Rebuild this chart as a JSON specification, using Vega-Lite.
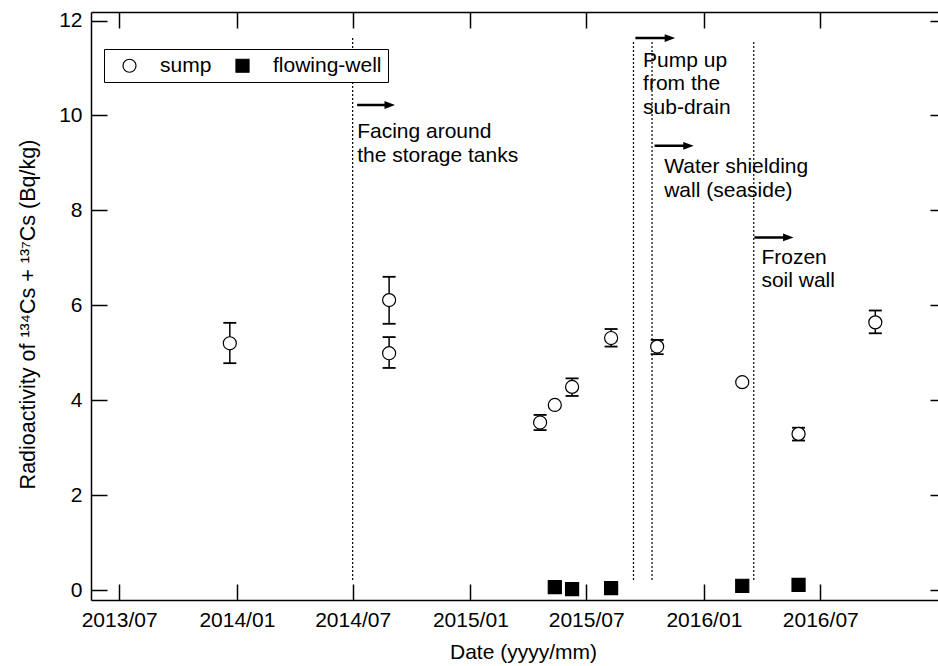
{
  "$schema": "https://vega.github.io/schema/vega-lite/v6.json",
  "width": 847,
  "height": 588,
  "autosize": {"type": "none"},
  "padding": {"left": 91, "top": 12, "right": 0, "bottom": 66},
  "background": "white",
  "config": {
    "font": "Liberation Sans",
    "view": {"stroke": null},
    "axis": {"grid": false, "domainColor": "black", "tickColor": "black", "labelColor": "black", "titleColor": "black", "domainWidth": 1.5, "tickWidth": 1.5, "labelFontSize": 21, "titleFontSize": 21, "titleFontWeight": "normal"},
    "legend": {"orient": "none", "legendX": 13, "legendY": 37, "direction": "horizontal", "strokeColor": "black", "fillColor": "white", "padding": 6, "labelFontSize": 21, "labelColor": "black", "symbolSize": 170, "symbolStrokeColor": "black", "symbolStrokeWidth": 1.2, "labelOffset": 20, "columnPadding": 11, "symbolOffset": 9}
  },
  "datasets": {
    "points": [
      {"series": "sump", "date": "2013-12-21", "value": 5.20},
      {"series": "sump", "date": "2014-08-27", "value": 6.11},
      {"series": "sump", "date": "2014-08-27", "value": 4.99},
      {"series": "sump", "date": "2015-04-20", "value": 3.53},
      {"series": "sump", "date": "2015-05-13", "value": 3.90},
      {"series": "sump", "date": "2015-06-09", "value": 4.28},
      {"series": "sump", "date": "2015-08-09", "value": 5.31},
      {"series": "sump", "date": "2015-10-20", "value": 5.13},
      {"series": "sump", "date": "2016-03-01", "value": 4.38},
      {"series": "sump", "date": "2016-05-28", "value": 3.29},
      {"series": "sump", "date": "2016-09-25", "value": 5.64},
      {"series": "flowing-well", "date": "2015-05-13", "value": 0.06},
      {"series": "flowing-well", "date": "2015-06-09", "value": 0.02},
      {"series": "flowing-well", "date": "2015-08-09", "value": 0.04},
      {"series": "flowing-well", "date": "2016-03-01", "value": 0.09},
      {"series": "flowing-well", "date": "2016-05-28", "value": 0.11}
    ],
    "errors": [
      {"date": "2013-12-21", "lo": 4.78, "hi": 5.63},
      {"date": "2014-08-27", "lo": 5.61, "hi": 6.60},
      {"date": "2014-08-27", "lo": 4.68, "hi": 5.33},
      {"date": "2015-04-20", "lo": 3.37, "hi": 3.69},
      {"date": "2015-06-09", "lo": 4.09, "hi": 4.46},
      {"date": "2015-08-09", "lo": 5.13, "hi": 5.50},
      {"date": "2015-10-20", "lo": 4.97, "hi": 5.27},
      {"date": "2016-05-28", "lo": 3.15, "hi": 3.42},
      {"date": "2016-09-25", "lo": 5.41, "hi": 5.89}
    ],
    "events": [
      {"date": "2014-07-01", "lo": 0.21, "hi": 11.66},
      {"date": "2015-09-13", "lo": 0.21, "hi": 11.59},
      {"date": "2015-10-12", "lo": 0.21, "hi": 11.59},
      {"date": "2016-03-19", "lo": 0.21, "hi": 11.59}
    ],
    "arrows": [
      {"start": "2014-07-08", "head": "2014-08-28", "value": 10.22},
      {"start": "2015-09-16", "head": "2015-11-09", "value": 11.63},
      {"start": "2015-10-16", "head": "2015-12-08", "value": 9.36},
      {"start": "2016-03-20", "head": "2016-05-12", "value": 7.43}
    ],
    "notes": [
      {"date": "2014-07-08", "value": 9.53, "text": "Facing around"},
      {"date": "2014-07-08", "value": 9.02, "text": "the storage tanks"},
      {"date": "2015-09-28", "value": 11.03, "text": "Pump up"},
      {"date": "2015-09-28", "value": 10.54, "text": "from the"},
      {"date": "2015-09-28", "value": 10.03, "text": "sub-drain"},
      {"date": "2015-10-31", "value": 8.78, "text": "Water shielding"},
      {"date": "2015-10-31", "value": 8.29, "text": "wall (seaside)"},
      {"date": "2016-03-31", "value": 6.87, "text": "Frozen"},
      {"date": "2016-03-31", "value": 6.38, "text": "soil wall"}
    ]
  },
  "resolve": {"axis": {"x": "independent", "y": "independent"}},
  "layer": [
    {
      "data": {"name": "events"},
      "mark": {"type": "rule", "color": "black", "strokeWidth": 1.2, "strokeDash": [2, 2]},
      "encoding": {
        "x": {"field": "date", "type": "temporal",
          "scale": {"type": "utc", "domain": [{"year": 2013, "month": 5, "date": 18, "utc": true}, {"year": 2017, "month": 1, "date": 1, "utc": true}]},
          "axis": {"orient": "bottom", "title": "Date (yyyy/mm)", "labelExpr": "utcFormat(datum.value, '%Y/%m')",
            "values": [{"year": 2013, "month": 7, "date": 1, "utc": true}, {"year": 2014, "month": 1, "date": 1, "utc": true}, {"year": 2014, "month": 7, "date": 1, "utc": true}, {"year": 2015, "month": 1, "date": 1, "utc": true}, {"year": 2015, "month": 7, "date": 1, "utc": true}, {"year": 2016, "month": 1, "date": 1, "utc": true}, {"year": 2016, "month": 7, "date": 1, "utc": true}],
            "tickSize": -16, "labelPadding": 25, "titleX": 432, "titleY": 58, "titleBaseline": "alphabetic", "titleAnchor": "start", "titleAlign": "center", "labelOverlap": false, "labelFlush": false}},
        "y": {"field": "lo", "type": "quantitative",
          "scale": {"domain": [-0.21, 12.18], "nice": false, "zero": false},
          "axis": {"orient": "left", "title": "Radioactivity of ¹³⁴Cs + ¹³⁷Cs (Bq/kg)", "values": [0, 2, 4, 6, 8, 10, 12], "tickSize": -16, "labelPadding": 25, "titlePadding": 19, "titleY": 302, "titleAlign": "center", "titleFontSize": 21.5, "labelOverlap": false}},
        "y2": {"field": "hi"}
      }
    },
    {
      "data": {"name": "notes"},
      "mark": {"type": "text", "align": "left", "baseline": "alphabetic", "fontSize": 21, "color": "black"},
      "encoding": {
        "x": {"field": "date", "type": "temporal",
          "scale": {"type": "utc", "domain": [{"year": 2013, "month": 5, "date": 18, "utc": true}, {"year": 2017, "month": 1, "date": 1, "utc": true}]},
          "axis": {"orient": "top", "title": null, "labels": false, "domain": true,
            "values": [{"year": 2013, "month": 7, "date": 1, "utc": true}, {"year": 2014, "month": 1, "date": 1, "utc": true}, {"year": 2014, "month": 7, "date": 1, "utc": true}, {"year": 2015, "month": 1, "date": 1, "utc": true}, {"year": 2015, "month": 7, "date": 1, "utc": true}, {"year": 2016, "month": 1, "date": 1, "utc": true}, {"year": 2016, "month": 7, "date": 1, "utc": true}],
            "tickSize": -16}},
        "y": {"field": "value", "type": "quantitative",
          "scale": {"domain": [-0.21, 12.18], "nice": false, "zero": false},
          "axis": {"orient": "right", "title": null, "labels": false, "domain": false, "values": [0, 2, 4, 6, 8, 10, 12], "tickSize": -8}},
        "text": {"field": "text", "type": "nominal"}
      }
    },
    {
      "data": {"name": "arrows"},
      "mark": {"type": "rule", "color": "black", "strokeWidth": 2.5},
      "encoding": {
        "x": {"field": "start", "type": "temporal", "axis": null,
          "scale": {"type": "utc", "domain": [{"year": 2013, "month": 5, "date": 18, "utc": true}, {"year": 2017, "month": 1, "date": 1, "utc": true}]}},
        "x2": {"field": "head"},
        "y": {"field": "value", "type": "quantitative", "axis": null,
          "scale": {"domain": [-0.21, 12.18], "nice": false, "zero": false}}
      }
    },
    {
      "data": {"name": "arrows"},
      "mark": {"type": "point", "shape": "M-1,-0.75L1,0L-1,0.75Z", "size": 110, "filled": true, "color": "black", "opacity": 1, "strokeWidth": 0},
      "encoding": {
        "x": {"field": "head", "type": "temporal", "axis": null,
          "scale": {"type": "utc", "domain": [{"year": 2013, "month": 5, "date": 18, "utc": true}, {"year": 2017, "month": 1, "date": 1, "utc": true}]}},
        "y": {"field": "value", "type": "quantitative", "axis": null,
          "scale": {"domain": [-0.21, 12.18], "nice": false, "zero": false}}
      }
    },
    {
      "data": {"name": "errors"},
      "mark": {"type": "rule", "color": "black", "strokeWidth": 1.5},
      "encoding": {
        "x": {"field": "date", "type": "temporal", "axis": null,
          "scale": {"type": "utc", "domain": [{"year": 2013, "month": 5, "date": 18, "utc": true}, {"year": 2017, "month": 1, "date": 1, "utc": true}]}},
        "y": {"field": "lo", "type": "quantitative", "axis": null,
          "scale": {"domain": [-0.21, 12.18], "nice": false, "zero": false}},
        "y2": {"field": "hi"}
      }
    },
    {
      "data": {"name": "errors"},
      "mark": {"type": "tick", "orient": "horizontal", "size": 13, "thickness": 1.8, "color": "black", "opacity": 1},
      "encoding": {
        "x": {"field": "date", "type": "temporal", "axis": null,
          "scale": {"type": "utc", "domain": [{"year": 2013, "month": 5, "date": 18, "utc": true}, {"year": 2017, "month": 1, "date": 1, "utc": true}]}},
        "y": {"field": "lo", "type": "quantitative", "axis": null,
          "scale": {"domain": [-0.21, 12.18], "nice": false, "zero": false}}
      }
    },
    {
      "data": {"name": "errors"},
      "mark": {"type": "tick", "orient": "horizontal", "size": 13, "thickness": 1.8, "color": "black", "opacity": 1},
      "encoding": {
        "x": {"field": "date", "type": "temporal", "axis": null,
          "scale": {"type": "utc", "domain": [{"year": 2013, "month": 5, "date": 18, "utc": true}, {"year": 2017, "month": 1, "date": 1, "utc": true}]}},
        "y": {"field": "hi", "type": "quantitative", "axis": null,
          "scale": {"domain": [-0.21, 12.18], "nice": false, "zero": false}}
      }
    },
    {
      "data": {"name": "points"},
      "mark": {"type": "point", "size": 170, "strokeWidth": 1.2, "opacity": 1, "fillOpacity": 1},
      "encoding": {
        "x": {"field": "date", "type": "temporal", "axis": null,
          "scale": {"type": "utc", "domain": [{"year": 2013, "month": 5, "date": 18, "utc": true}, {"year": 2017, "month": 1, "date": 1, "utc": true}]}},
        "y": {"field": "value", "type": "quantitative", "axis": null,
          "scale": {"domain": [-0.21, 12.18], "nice": false, "zero": false}},
        "shape": {"field": "series", "type": "nominal", "scale": {"domain": ["sump", "flowing-well"], "range": ["circle", "square"]}, "legend": {"title": null}},
        "fill": {"field": "series", "type": "nominal", "scale": {"domain": ["sump", "flowing-well"], "range": ["white", "black"]}, "legend": {"title": null}},
        "stroke": {"field": "series", "type": "nominal", "scale": {"domain": ["sump", "flowing-well"], "range": ["black", "black"]}, "legend": {"title": null}}
      }
    }
  ]
}
